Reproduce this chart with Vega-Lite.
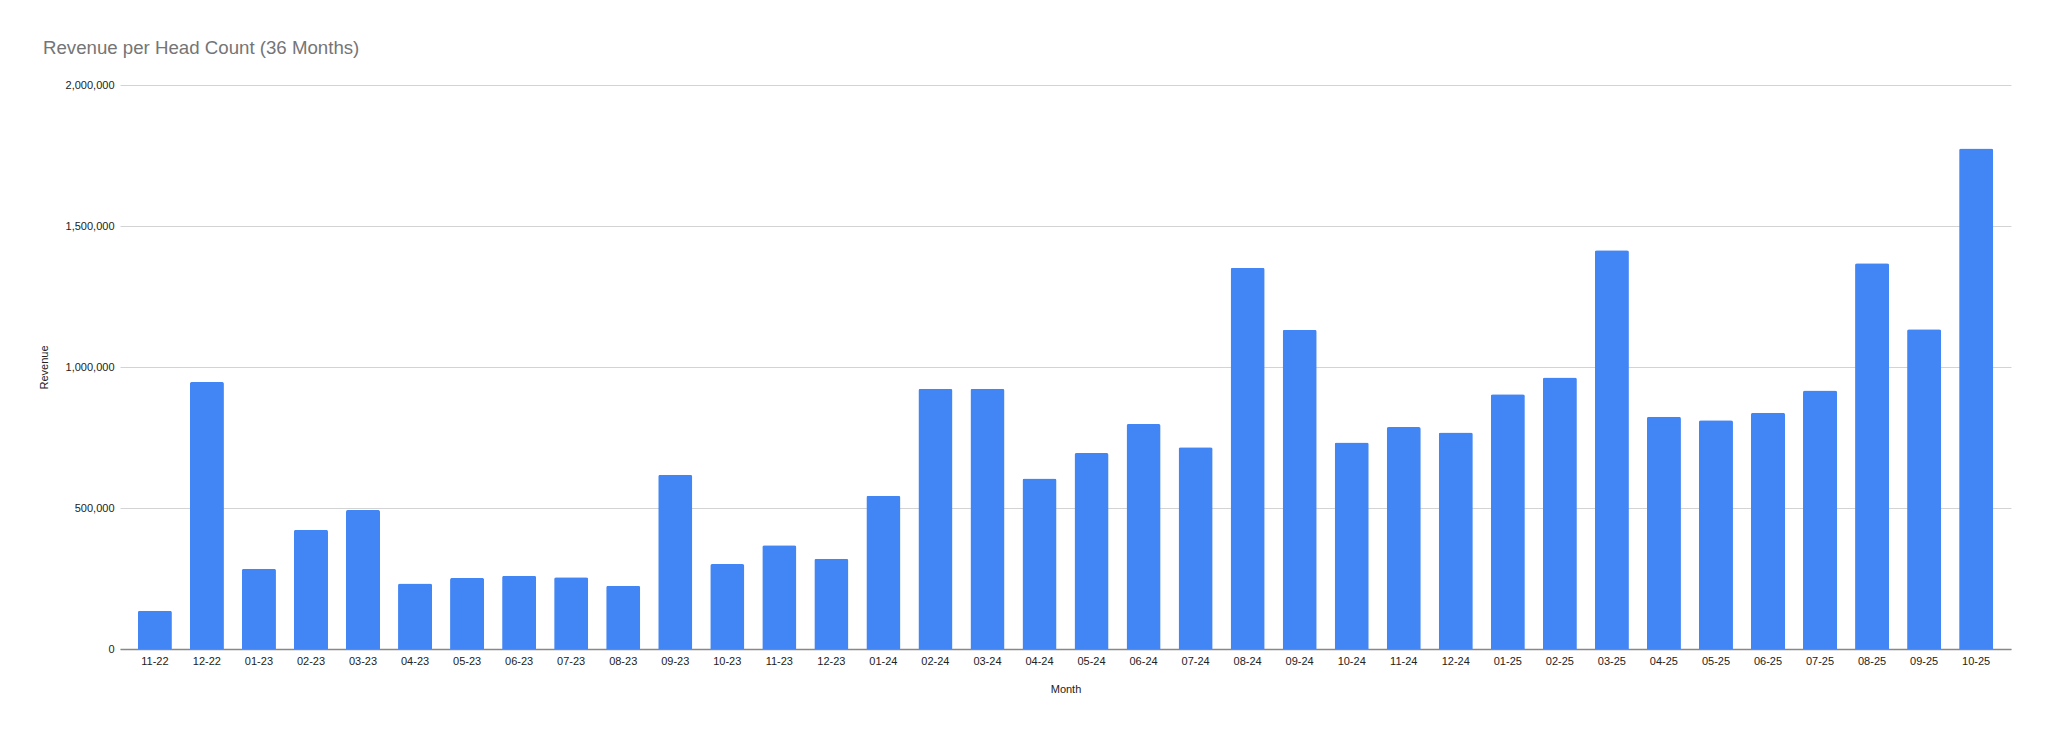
{
  "$schema": "https://vega.github.io/schema/vega-lite/v6.json",
  "autosize": {"type": "none"},
  "width": 1891,
  "height": 564,
  "padding": {"left": 120, "top": 85, "right": 37, "bottom": 81},
  "background": "#ffffff",
  "title": {
    "text": "Revenue per Head Count (36 Months)",
    "anchor": "start",
    "frame": "group",
    "dx": -77,
    "baseline": "alphabetic",
    "offset": 6,
    "font": "Liberation Sans",
    "fontSize": 18.67,
    "fontWeight": "normal",
    "color": "#757575"
  },
  "config": {
    "view": {"stroke": null},
    "font": "Liberation Sans"
  },
  "data": {
    "values": [
      {"Month": "11-22", "Revenue": 136000},
      {"Month": "12-22", "Revenue": 947000},
      {"Month": "01-23", "Revenue": 285000},
      {"Month": "02-23", "Revenue": 423000},
      {"Month": "03-23", "Revenue": 493000},
      {"Month": "04-23", "Revenue": 232000},
      {"Month": "05-23", "Revenue": 252000},
      {"Month": "06-23", "Revenue": 260000},
      {"Month": "07-23", "Revenue": 254000},
      {"Month": "08-23", "Revenue": 224000},
      {"Month": "09-23", "Revenue": 618000},
      {"Month": "10-23", "Revenue": 301000},
      {"Month": "11-23", "Revenue": 368000},
      {"Month": "12-23", "Revenue": 320000},
      {"Month": "01-24", "Revenue": 543000},
      {"Month": "02-24", "Revenue": 923000},
      {"Month": "03-24", "Revenue": 923000},
      {"Month": "04-24", "Revenue": 605000},
      {"Month": "05-24", "Revenue": 695000},
      {"Month": "06-24", "Revenue": 798000},
      {"Month": "07-24", "Revenue": 715000},
      {"Month": "08-24", "Revenue": 1352000},
      {"Month": "09-24", "Revenue": 1132000},
      {"Month": "10-24", "Revenue": 732000},
      {"Month": "11-24", "Revenue": 787000},
      {"Month": "12-24", "Revenue": 768000},
      {"Month": "01-25", "Revenue": 903000},
      {"Month": "02-25", "Revenue": 963000},
      {"Month": "03-25", "Revenue": 1414000},
      {"Month": "04-25", "Revenue": 824000},
      {"Month": "05-25", "Revenue": 811000},
      {"Month": "06-25", "Revenue": 838000},
      {"Month": "07-25", "Revenue": 917000},
      {"Month": "08-25", "Revenue": 1368000},
      {"Month": "09-25", "Revenue": 1134000},
      {"Month": "10-25", "Revenue": 1775000}
    ]
  },
  "mark": {
    "type": "bar",
    "color": "#4285F4",
    "cornerRadiusTopLeft": 2,
    "cornerRadiusTopRight": 2
  },
  "encoding": {
    "x": {
      "field": "Month",
      "type": "nominal",
      "sort": null,
      "scale": {"paddingInner": 0.346, "paddingOuter": 0.343},
      "axis": {
        "title": "Month",
        "titleFont": "Liberation Sans",
        "titleFontSize": 11,
        "titleFontWeight": "normal",
        "titleColor": "#222222",
        "titleBaseline": "alphabetic",
        "titleY": 43,
        "labelAngle": 0,
        "labelFont": "Liberation Sans",
        "labelFontSize": 11,
        "labelColor": "#222222",
        "labelPadding": 6,
        "ticks": false,
        "grid": false,
        "domain": true,
        "domainColor": "#888888",
        "domainWidth": 1.5
      }
    },
    "y": {
      "field": "Revenue",
      "type": "quantitative",
      "scale": {"domain": [0, 2000000], "nice": false},
      "axis": {
        "title": "Revenue",
        "titleFont": "Liberation Sans",
        "titleFontSize": 11,
        "titleFontWeight": "normal",
        "titleColor": "#222222",
        "titleBaseline": "alphabetic",
        "titleX": -73,
        "titleY": 282,
        "values": [0, 500000, 1000000, 1500000, 2000000],
        "format": ",.0f",
        "labelFont": "Liberation Sans",
        "labelFontSize": 11,
        "labelColor": "#222222",
        "labelPadding": 6,
        "ticks": false,
        "domain": false,
        "grid": true,
        "gridColor": "#d3d3d3",
        "gridWidth": 1
      }
    }
  }
}
